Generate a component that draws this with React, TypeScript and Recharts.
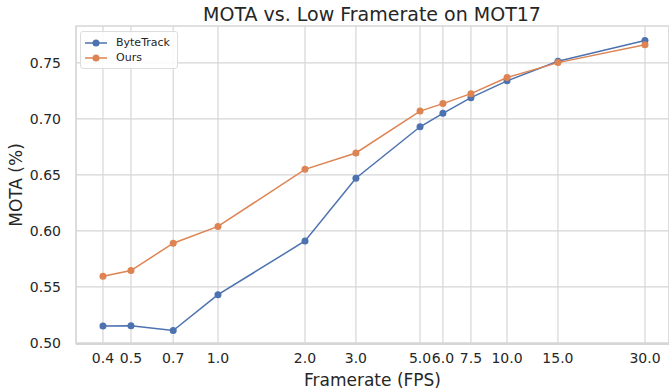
import { LineChart, Line, XAxis, YAxis, CartesianGrid, ReferenceArea, Label } from "recharts"

// frame rates (FPS) on the x axis, log spaced
const fps = [0.4, 0.5, 0.7, 1.0, 2.0, 3.0, 5.0, 6.0, 7.5, 10.0, 15.0, 30.0]
const byteTrack = [0.515, 0.5153, 0.511, 0.543, 0.591, 0.647, 0.693, 0.705, 0.719, 0.734, 0.7515, 0.770]
const ours = [0.5595, 0.5646, 0.589, 0.604, 0.655, 0.6696, 0.707, 0.7137, 0.7226, 0.737, 0.7503, 0.7663]
const yTicks = [0.5, 0.55, 0.6, 0.65, 0.7, 0.75]

const series = [
  { name: "ByteTrack", color: "#4c72b0" },
  { name: "Ours", color: "#dd8452" },
]

const data = fps.map((f, i) => ({ fps: f, ByteTrack: byteTrack[i], Ours: ours[i] }))

const xDomain: [number, number] = [0.3227, 36.33]
const yDomain: [number, number] = [0.499, 0.783]

const FONT = "DejaVu Sans"
const TEXT = "#262626"
const GRID = "#d6d6d6"

// legend box in the upper-left corner of the axes
function LegendBox() {
  return (
    <div
      style={{
        position: "absolute",
        left: 80,
        top: 31,
        border: "1px solid #dddddd",
        borderRadius: 3,
        background: "rgba(255,255,255,0.85)",
        padding: "3px 7px 3px 3px",
        fontFamily: FONT,
        fontSize: 11,
        color: TEXT,
      }}
    >
      {series.map((s) => (
        <div key={s.name} style={{ display: "flex", alignItems: "center", height: 15 }}>
          <svg width={24} height={10} style={{ marginRight: 8 }}>
            <line x1={1} y1={5} x2={23} y2={5} stroke={s.color} strokeWidth={1.5} />
            <circle cx={12} cy={5} r={3.5} fill={s.color} />
          </svg>
          <span>{s.name}</span>
        </div>
      ))}
    </div>
  )
}

export default function App() {
  return (
    <div style={{ position: "absolute", left: 0, top: 0, width: 669, height: 390, background: "#fff" }}>
      <LineChart width={669} height={390} data={data} margin={{ top: 26, right: 0, bottom: 0, left: 0 }}>
        <CartesianGrid stroke={GRID} strokeWidth={1.2} />
        <ReferenceArea x1={xDomain[0]} x2={xDomain[1]} y1={yDomain[0]} y2={yDomain[1]} fill="none" stroke={GRID} strokeWidth={1.2} />
        <XAxis
          dataKey="fps"
          type="number"
          scale="log"
          domain={xDomain}
          allowDataOverflow
          ticks={fps}
          interval={0}
          tickFormatter={(v: number) => v.toFixed(1)}
          tickLine={false}
          axisLine={{ stroke: GRID, strokeWidth: 2 }}
          tickMargin={3}
          height={46}
          tick={{ fill: TEXT, fontSize: 14, fontFamily: FONT }}
        >
          <Label value="Framerate (FPS)" position="insideBottom" offset={0} dy={-4} style={{ fill: TEXT, fontSize: 17, fontFamily: FONT }} />
        </XAxis>
        <YAxis
          type="number"
          domain={yDomain}
          allowDataOverflow
          ticks={yTicks}
          interval={0}
          tickFormatter={(v: number) => v.toFixed(2)}
          tickLine={false}
          axisLine={false}
          tickMargin={9}
          width={76}
          tick={{ fill: TEXT, fontSize: 14, fontFamily: FONT }}
        >
          <Label value="MOTA (%)" angle={-90} position="insideLeft" offset={0} dx={16} style={{ textAnchor: "middle", fill: TEXT, fontSize: 17, fontFamily: FONT }} />
        </YAxis>
        {series.map((s) => (
          <Line
            key={s.name}
            dataKey={s.name}
            stroke={s.color}
            strokeWidth={1.5}
            dot={{ r: 3.5, fill: s.color, stroke: s.color, strokeWidth: 0 }}
            isAnimationActive={false}
          />
        ))}
        <text x={372} y={21} textAnchor="middle" style={{ fill: TEXT, fontSize: 19, fontFamily: FONT }}>
          MOTA vs. Low Framerate on MOT17
        </text>
      </LineChart>
      <LegendBox />
    </div>
  )
}
